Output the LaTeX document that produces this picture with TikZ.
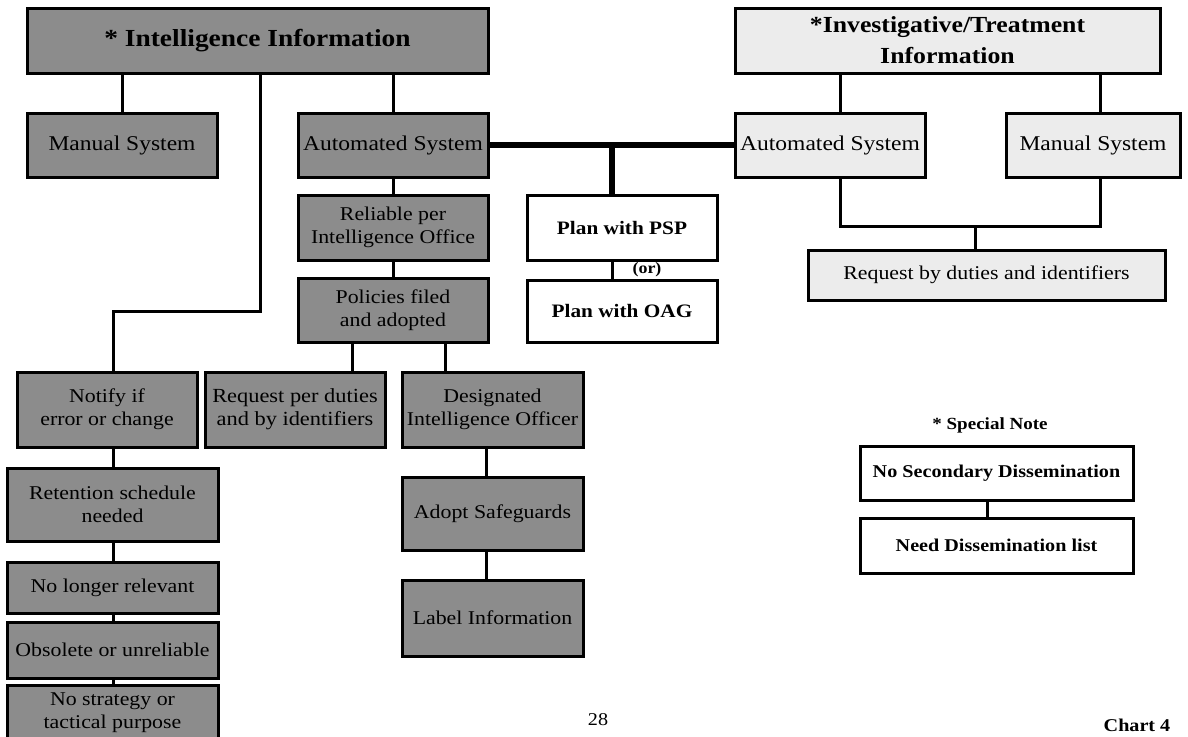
\documentclass[tikz,border=0pt]{standalone}
\usepackage{fontspec}
\setmainfont{Liberation Serif}[FakeStretch=1.12]
\definecolor{gbdark}{RGB}{140,140,140}
\definecolor{gblight}{RGB}{236,236,236}
\begin{document}
\begin{tikzpicture}[x=1pt,y=-1pt,
  box/.style={draw=black, line width=3pt, inner sep=2pt, align=center, text=black},
  dbox/.style={box, fill=gbdark, font=\fontsize{19.5}{23}\selectfont},
  lbox/.style={box, fill=gblight, font=\fontsize{21}{24}\selectfont},
  wbox/.style={box, fill=white, font=\fontsize{19}{23}\selectfont\bfseries},
  conn/.style={line width=3pt},
  busline/.style={line width=6pt}]
\fill[white] (0,0) rectangle (1188,736);
\useasboundingbox (0,0) rectangle (1188,736);

% left tree
\node[dbox, minimum width=461pt, minimum height=65pt, font=\fontsize{24.5}{28}\selectfont\bfseries] (intel) at (257.5,40.5) {* Intelligence Information};
\node[dbox, minimum width=190pt, minimum height=64pt, font=\fontsize{21}{24}\selectfont] (manL) at (122,145) {Manual System};
\node[dbox, minimum width=190pt, minimum height=64pt, font=\fontsize{21}{24}\selectfont] (autoL) at (393,145) {Automated System};
\node[dbox, minimum width=190pt, minimum height=65pt] (reli) at (393,227.5) {Reliable per\\Intelligence Office};
\node[dbox, minimum width=190pt, minimum height=64pt] (poli) at (393,310) {Policies filed\\and adopted};
\node[dbox, minimum width=180pt, minimum height=75pt] (notify) at (107,409.5) {Notify if\\error or change};
\node[dbox, minimum width=180pt, minimum height=75pt, font=\fontsize{20}{23}\selectfont] (reqL) at (295,409.5) {Request per duties\\and by identifiers};
\node[dbox, minimum width=181pt, minimum height=75pt] (desig) at (492.5,409.5) {Designated\\Intelligence Officer};
\node[dbox, minimum width=211pt, minimum height=73pt] (ret) at (112.5,504.5) {Retention schedule\\needed};
\node[dbox, minimum width=211pt, minimum height=51pt] (nolonger) at (112.5,587.5) {No longer relevant};
\node[dbox, minimum width=211pt, minimum height=56pt] (obsolete) at (112.5,650) {Obsolete or unreliable};
\node[dbox, minimum width=211pt, minimum height=55pt] (nostrat) at (112.5,712.5) {No strategy or\\tactical purpose};
\node[dbox, minimum width=181pt, minimum height=73pt] (adopt) at (492.5,513.5) {Adopt Safeguards};
\node[dbox, minimum width=181pt, minimum height=76pt] (label) at (492.5,618) {Label Information};

% plans
\node[wbox, minimum width=190pt, minimum height=65pt] (psp) at (622,227.5) {Plan with PSP};
\node[wbox, minimum width=190pt, minimum height=62pt] (oag) at (622,311) {Plan with OAG};
\node[font=\fontsize{16}{18}\selectfont\bfseries, inner sep=0pt] (ortxt) at (647,270) {(or)};

% right tree
\node[lbox, minimum width=425pt, minimum height=65pt, font=\fontsize{23}{31}\selectfont\bfseries] (invest) at (947.5,40.5) {*Investigative/Treatment\\Information};
\node[lbox, minimum width=190pt, minimum height=64pt] (autoR) at (830,145) {Automated System};
\node[lbox, minimum width=174pt, minimum height=64pt] (manR) at (1093,145) {Manual System};
\node[lbox, minimum width=357pt, minimum height=50pt, font=\fontsize{19.5}{22}\selectfont] (reqR) at (986.5,275) {Request by duties and identifiers};

% special note
\node[font=\fontsize{17}{20}\selectfont\bfseries, inner sep=0pt] (snote) at (990,425) {* Special Note};
\node[wbox, minimum width=273pt, minimum height=54pt, font=\fontsize{18}{22}\selectfont\bfseries] (nosec) at (996.5,473) {No Secondary Dissemination};
\node[wbox, minimum width=273pt, minimum height=55pt, font=\fontsize{18}{22}\selectfont\bfseries] (need) at (996.5,545.5) {Need Dissemination list};

% footer
\node[font=\fontsize{18}{20}\selectfont, inner sep=0pt] (pagenum) at (598,720) {28};
\node[font=\fontsize{18}{20}\selectfont\bfseries, inner sep=0pt] (chart) at (1137,725) {Chart 4};

% helper coordinates
\coordinate (bendA) at (260,311);
\coordinate (bendB) at (113,311);
\coordinate (xq) at (352,0);
\coordinate (xd) at (445,0);
\coordinate (xa) at (486,0);
\coordinate (busjoin) at (612,145);
\coordinate (xr1) at (840,0);
\coordinate (xr2) at (1100,0);
\coordinate (jl) at (840,226);
\coordinate (jr) at (1100,226);
\coordinate (jm) at (975,226);
\coordinate (xn) at (987,0);

% connectors left
\draw[conn] (intel.south -| manL) -- (manL.north);
\draw[conn] (intel.south -| autoL) -- (autoL.north);
\draw[conn] (intel.south -| bendA) -- (bendA) -- (bendB) -- (notify.north -| bendB);
\draw[conn] (autoL.south) -- (reli.north);
\draw[conn] (reli.south) -- (poli.north);
\draw[conn] (poli.south -| xq) -- (reqL.north -| xq);
\draw[conn] (poli.south -| xd) -- (desig.north -| xd);
\draw[conn] (notify.south -| bendB) -- (ret.north -| bendB);
\draw[conn] (ret.south -| bendB) -- (nolonger.north -| bendB);
\draw[conn] (nolonger.south -| bendB) -- (obsolete.north -| bendB);
\draw[conn] (obsolete.south -| bendB) -- (nostrat.north -| bendB);
\draw[conn] (desig.south -| xa) -- (adopt.north -| xa);
\draw[conn] (adopt.south -| xa) -- (label.north -| xa);

% bus
\draw[busline] (autoL.east) -- (autoR.west);
\draw[busline] (busjoin) -- (psp.north -| busjoin);
\draw[conn] (psp.south -| busjoin) -- (oag.north -| busjoin);

% right connectors
\draw[conn] (invest.south -| xr1) -- (autoR.north -| xr1);
\draw[conn] (invest.south -| xr2) -- (manR.north -| xr2);
\draw[conn] (autoR.south -| xr1) -- (jl) -- (jr) -- (manR.south -| xr2);
\draw[conn] (jm) -- (reqR.north -| jm);

% note connector
\draw[conn] (nosec.south -| xn) -- (need.north -| xn);
\end{tikzpicture}
\end{document}
